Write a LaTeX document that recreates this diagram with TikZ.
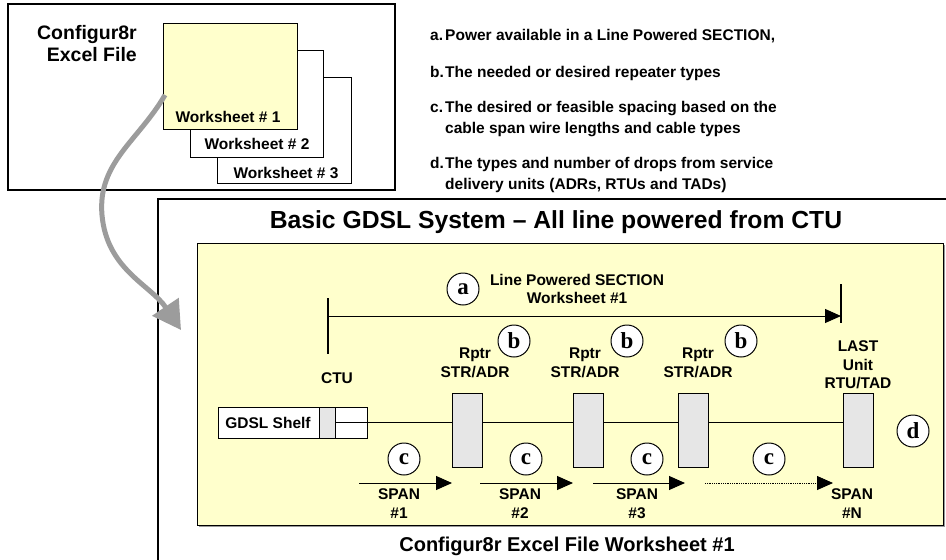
\documentclass[tikz,border=0pt]{standalone}
\usepackage{fontspec}
\setmainfont{Liberation Sans}
\newfontfamily\circfont{Liberation Serif}
\usetikzlibrary{arrows.meta}

\definecolor{padyellow}{HTML}{FFFFCC}
\definecolor{unitgray}{HTML}{E6E6E6}
\definecolor{arrowgray}{HTML}{9C9C9C}

\newcommand{\itemtag}[1]{\makebox[15pt][l]{#1}}

\tikzset{
  lbl/.style={font=\fontsize{15.5}{18.5}\selectfont\bfseries, align=center, inner sep=0pt},
  itm/.style={font=\fontsize{15.5}{21}\selectfont\bfseries, inner sep=0pt, anchor=north west},
  letterc/.style={circle, draw, line width=1pt, fill=white, minimum size=32pt, inner sep=0pt,
    font=\circfont\fontsize{23}{23}\selectfont\bfseries},
  unitbox/.style={draw, fill=unitgray, line width=1pt, minimum width=30pt, minimum height=74pt, inner sep=0pt},
  tip/.style={-{Triangle[length=16pt,width=14pt]}}
}

\begin{document}
\begin{tikzpicture}[x=1pt,y=-1pt]

\useasboundingbox (0,0) rectangle (946,560);
\clip (0,0) rectangle (946,560);

% excel file with its worksheets
\draw[line width=1.2pt] (8,4) rectangle (395,190);
\node[font=\fontsize{19.5}{22}\selectfont\bfseries, align=right, inner sep=0pt, anchor=east] (xlsfile) at (137,44) {Configur8r\\Excel File};

\draw[line width=1pt, fill=white] (217,77) rectangle (351,183);
\draw[line width=1pt, fill=white] (190,50) rectangle (323,157);
\draw[line width=1pt, fill=padyellow] (163,23) rectangle (297,129);
\node[lbl] (ws3) at (286,173) {Worksheet \# 3};
\node[lbl] (ws2) at (257,144) {Worksheet \# 2};
\node[lbl] (ws1) at (228,117) {Worksheet \# 1};

% list of inputs
\node[itm] (ia) at (430,25.8) {\begin{tabular}{@{}l@{}l@{}}\itemtag{a.} & Power available in a Line Powered SECTION,\end{tabular}};
\node[itm] (ib) at (430,62.8) {\begin{tabular}{@{}l@{}l@{}}\itemtag{b.} & The needed or desired repeater types\end{tabular}};
\node[itm] (ic) at (430,97.8) {\begin{tabular}{@{}l@{}l@{}}\itemtag{c.} & The desired or feasible spacing based on the\\ & cable span wire lengths and cable types\end{tabular}};
\node[itm] (id) at (430,153.8) {\begin{tabular}{@{}l@{}l@{}}\itemtag{d.} & The types and number of drops from service\\ & delivery units (ADRs, RTUs and TADs)\end{tabular}};

% system frame
\draw[line width=1.2pt] (960,199) -- (158,199) -- (158,580);
\node[font=\fontsize{24.7}{25}\selectfont\bfseries, inner sep=0pt] (title) at (556,222) {Basic GDSL System -- All line powered from CTU};
\fill[gray!80] (199,245) rectangle (945,527);
\draw[line width=1pt, fill=padyellow] (197,243) rectangle (943,525);
\node[font=\fontsize{20}{20}\selectfont\bfseries, inner sep=0pt] (bottom) at (567,546) {Configur8r Excel File Worksheet \#1};

% gray pointer
\coordinate (pstart) at (165,95);
\coordinate (pend) at (181,330);
\draw[arrowgray, line width=5pt, -{Triangle[length=28pt,width=31pt]}] (pstart) to[out=-120,in=95] (102,215) to[out=-85,in=124] (pend);

% line powered section
\coordinate (secL) at (329,316);
\coordinate (secR) at (841,316);
\draw[line width=1.2pt] (328,298) -- (328,354);
\draw[line width=1.2pt] (841,284) -- (841,323);
\draw[line width=1pt, tip] (secL) -- (secR);
\node[letterc] (ca) at (463,289) {a};
\node[lbl] (sect) at (577,289) {Line Powered SECTION\\Worksheet \#1};

% units on the line
\node[draw, fill=white, line width=1pt, minimum width=149pt, minimum height=31pt, inner sep=0pt] (shelf) at (292.5,422.5) {};
\node[lbl] (shelftxt) at (268,423) {GDSL Shelf};
\node[draw, fill=unitgray, line width=1pt, minimum width=16pt, minimum height=31pt, inner sep=0pt] (slot) at (327,422.5) {};
\node[lbl] (ctu) at (337,378) {CTU};

\foreach \x\lx\bx [count=\i] in {467/475/514, 588/585/627, 693/698/741} {
  \node[unitbox] (r\i) at (\x,430) {};
  \node[lbl] (rl\i) at (\lx,363) {Rptr\\STR/ADR};
  \node[letterc] (cb\i) at (\bx,341) {b};
}
\node[unitbox] (last) at (858,430) {};
\node[lbl] (lastl) at (858,365) {LAST\\Unit\\RTU/TAD};
\node[letterc] (cd) at (913,431) {d};

\draw[line width=1pt] (slot.east) -- (slot.east -| r1.west);
\draw[line width=1pt] (r1.east |- slot.east) -- (slot.east -| r2.west);
\draw[line width=1pt] (r2.east |- slot.east) -- (slot.east -| r3.west);
\draw[line width=1pt] (r3.east |- slot.east) -- (slot.east -| last.west);

% spans
\foreach \a\b\cx\sx\n [count=\i] in {359/452/404/399/1, 480/573/526/520/2, 593/685/647/637/3} {
  \coordinate (sa\i) at (\a,483);
  \coordinate (sb\i) at (\b,483);
  \draw[line width=1pt, tip] (sa\i) -- (sb\i);
  \node[letterc] (cc\i) at (\cx,459) {c};
  \node[lbl] (span\i) at (\sx,503.5) {SPAN\\\#\n};
}
\coordinate (sa4) at (705,483);
\coordinate (sb4) at (833,483);
\draw[line width=0.8pt, densely dotted, tip] (sa4) -- (sb4);
\node[letterc] (cc4) at (769,459) {c};
\node[lbl] (span4) at (852,503.5) {SPAN\\\#N};

\end{tikzpicture}
\end{document}
